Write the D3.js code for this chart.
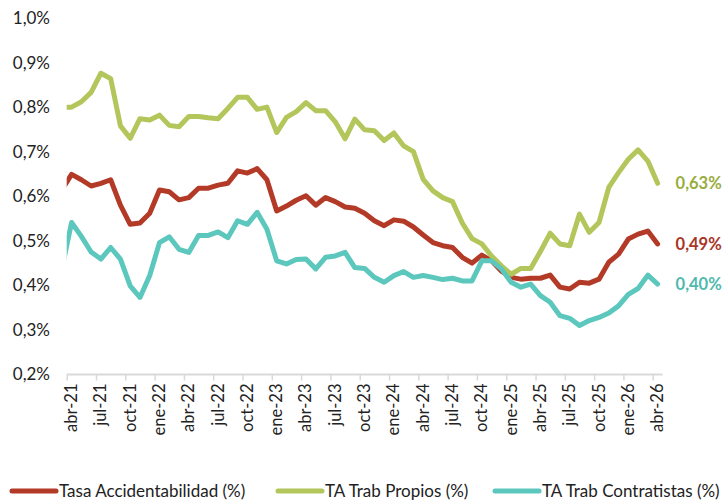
<!DOCTYPE html>
<html>
<head>
<meta charset="utf-8">
<script src="https://cdn.jsdelivr.net/npm/d3@7"></script>
<style>
  body { margin: 0; background: #fff; }
  svg text { font-family: Lato, "Open Sans", sans-serif; fill: #222; }
</style>
</head>
<body>
<div id="vis"></div>
<script>
// Monthly series, first value is mar-21 (sits just left of the axis and gets clipped)
var tasaTotal = [0.614,
  0.649, 0.637, 0.623, 0.629, 0.637, 0.580, 0.537, 0.540, 0.562, 0.614, 0.610, 0.592,
  0.597, 0.618, 0.618, 0.625, 0.629, 0.657, 0.652, 0.662, 0.637, 0.567, 0.578, 0.591,
  0.601, 0.580, 0.597, 0.588, 0.576, 0.573, 0.562, 0.545, 0.534, 0.547, 0.544, 0.531,
  0.513, 0.496, 0.489, 0.485, 0.463, 0.450, 0.468, 0.455, 0.432, 0.418, 0.414, 0.416,
  0.416, 0.423, 0.396, 0.392, 0.407, 0.405, 0.414, 0.452, 0.470, 0.504, 0.515, 0.522,
  0.493];

var tasaPropios = [0.800,
  0.800, 0.812, 0.833, 0.876, 0.864, 0.758, 0.730, 0.774, 0.771, 0.782, 0.759, 0.756,
  0.779, 0.779, 0.776, 0.774, 0.797, 0.822, 0.822, 0.795, 0.800, 0.743, 0.777, 0.790,
  0.810, 0.792, 0.792, 0.767, 0.729, 0.773, 0.749, 0.747, 0.725, 0.742, 0.713, 0.700,
  0.638, 0.612, 0.597, 0.588, 0.540, 0.505, 0.493, 0.466, 0.444, 0.425, 0.438, 0.438,
  0.476, 0.517, 0.493, 0.489, 0.560, 0.519, 0.541, 0.620, 0.653, 0.683, 0.704, 0.679,
  0.629];

var tasaContratistas = [0.437,
  0.541, 0.510, 0.475, 0.459, 0.485, 0.459, 0.399, 0.373, 0.422, 0.496, 0.509, 0.481,
  0.474, 0.512, 0.512, 0.520, 0.507, 0.545, 0.537, 0.564, 0.526, 0.455, 0.448, 0.458,
  0.459, 0.437, 0.463, 0.466, 0.474, 0.440, 0.438, 0.418, 0.407, 0.422, 0.431, 0.418,
  0.422, 0.418, 0.413, 0.416, 0.410, 0.410, 0.455, 0.455, 0.437, 0.407, 0.396, 0.403,
  0.377, 0.362, 0.332, 0.326, 0.310, 0.321, 0.328, 0.338, 0.354, 0.380, 0.393, 0.423,
  0.403];

var tickLabels = ["abr-21", "jul-21", "oct-21", "ene-22", "abr-22", "jul-22", "oct-22",
  "ene-23", "abr-23", "jul-23", "oct-23", "ene-24", "abr-24", "jul-24", "oct-24",
  "ene-25", "abr-25", "jul-25", "oct-25", "ene-26", "abr-26"];

var yTicks = [0.2, 0.3, 0.4, 0.5, 0.6, 0.7, 0.8, 0.9, 1.0];

var seriesNames = ["Tasa Accidentabilidad (%)", "TA Trab Propios (%)", "TA Trab Contratistas (%)"];
var seriesColors = ["#B23A27", "#B3C65B", "#5CC7BD"];
var labelColors = ["#A83627", "#98AD3E", "#4FB9AF"];

var width = 722, height = 501;
var nMonths = 61;

var svg = d3.select("#vis").append("svg")
  .attr("width", width)
  .attr("height", height);

// scales
var x = d3.scaleLinear().domain([0, nMonths]).range([66.7, 662.5]);
var y = d3.scaleLinear().domain([0.2, 1.0]).range([374.5, 18]);

// clip so the mar-21 point is cut at the plot edge
svg.append("defs").append("clipPath").attr("id", "plotClip")
  .append("rect")
  .attr("x", x(0)).attr("y", 0)
  .attr("width", x(nMonths) - x(0)).attr("height", height);

// y axis, labels only
var yAxis = d3.axisLeft(y)
  .tickValues(yTicks)
  .tickSize(0)
  .tickPadding(0)
  .tickFormat(function(d){ return d3.format(".1f")(d).replace(".", ",") + "%"; });

var gy = svg.append("g")
  .attr("transform", "translate(50,0)")
  .call(yAxis);
gy.select(".domain").remove();
gy.selectAll("text").style("font-size", "17px").attr("fill", "#222");

// x axis: ticks between category slots every 3 months
var tickPos = d3.range(0, nMonths, 3);
var xAxis = d3.axisBottom(x)
  .tickValues(tickPos)
  .tickSize(6)
  .tickFormat("");

var gx = svg.append("g")
  .attr("transform", "translate(0," + y(0.2) + ")")
  .call(xAxis);
gx.select(".domain").attr("stroke", "#d9d9d9").attr("stroke-width", 2)
  .attr("d", "M" + x(0) + ",0H" + x(nMonths));
gx.selectAll(".tick line").attr("stroke", "#d9d9d9").attr("stroke-width", 1.5);

// rotated month labels in the middle of each slot
svg.append("g").selectAll("text")
  .data(tickLabels)
  .enter().append("text")
  .attr("transform", function(d, i){
    return "translate(" + (x(i * 3 + 0.5) + 5.5) + "," + (y(0.2) + 9) + ") rotate(-90)";
  })
  .attr("text-anchor", "end")
  .style("font-size", "16.5px")
  .text(function(d){ return d; });

// lines
var line = d3.line()
  .x(function(d, i){ return x(i - 0.5); })
  .y(function(d){ return y(d); });

var allSeries = [tasaTotal, tasaPropios, tasaContratistas];

svg.append("g")
  .attr("clip-path", "url(#plotClip)")
  .selectAll("path")
  .data(allSeries)
  .enter().append("path")
  .attr("d", line)
  .attr("fill", "none")
  .attr("stroke", function(d, i){ return seriesColors[i]; })
  .attr("stroke-width", 5)
  .attr("stroke-linejoin", "round")
  .attr("stroke-linecap", "round");

// end value labels
svg.append("g").selectAll("text")
  .data(allSeries)
  .enter().append("text")
  .attr("x", x(nMonths - 0.5) + 18)
  .attr("y", function(d){ return y(d[d.length - 1]); })
  .attr("dy", "0.35em")
  .style("font-size", "16.5px")
  .style("font-weight", "bold")
  .style("fill", function(d, i){ return labelColors[i]; })
  .text(function(d){ return d3.format(".2f")(d[d.length - 1]).replace(".", ",") + "%"; });

// legend
var legendX = [12, 278, 495];
var legend = svg.append("g").selectAll("g")
  .data(seriesNames)
  .enter().append("g")
  .attr("transform", function(d, i){ return "translate(" + legendX[i] + ",491)"; });

legend.append("line")
  .attr("x1", 0).attr("x2", 44)
  .attr("stroke", function(d, i){ return seriesColors[i]; })
  .attr("stroke-width", 5)
  .attr("stroke-linecap", "round");

legend.append("text")
  .attr("x", 47)
  .attr("dy", "0.35em")
  .style("font-size", "17px")
  .text(function(d){ return d; });
</script>
</body>
</html>
